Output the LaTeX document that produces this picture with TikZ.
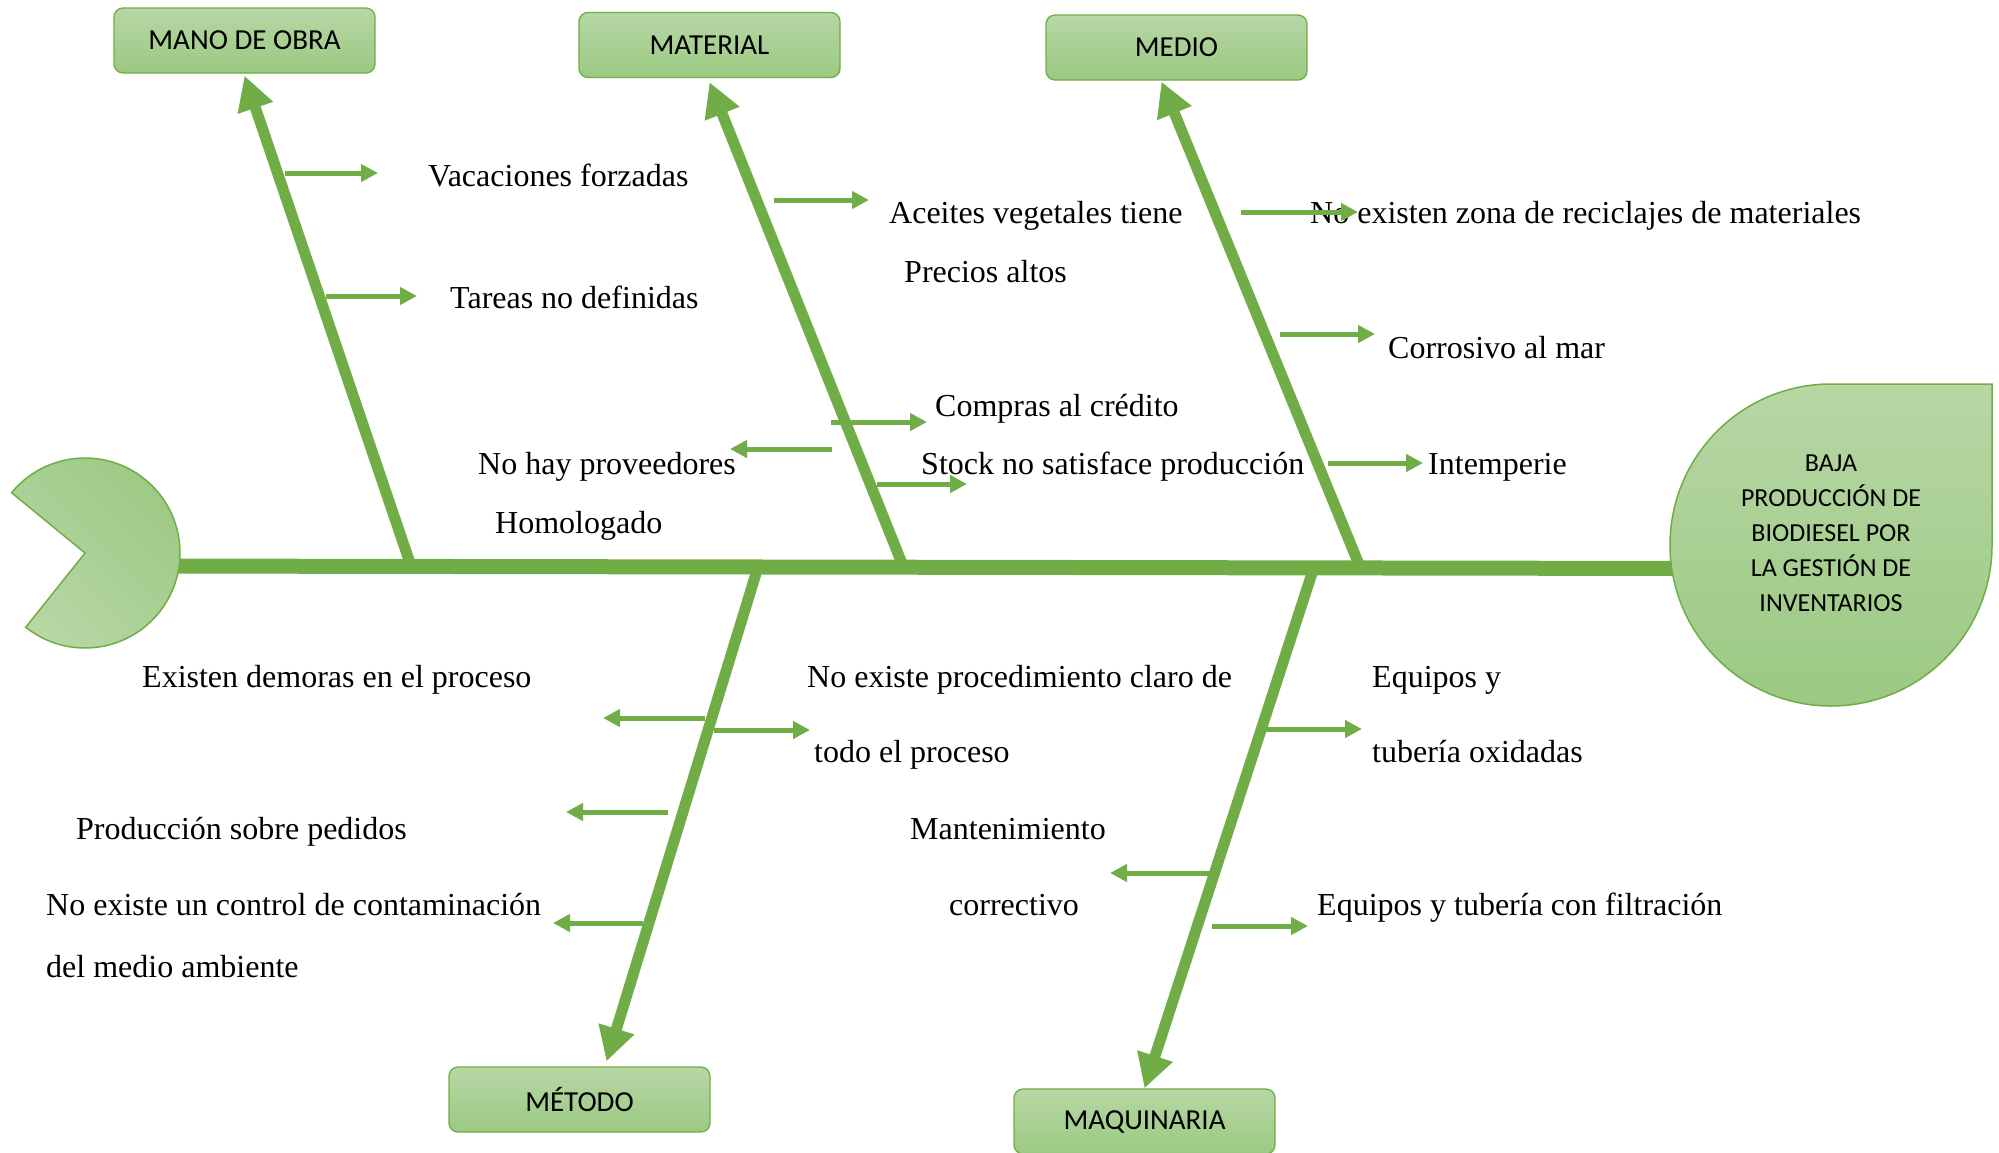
\documentclass[tikz,border=0pt]{standalone}
\usepackage{fontspec}
\setmainfont{Liberation Serif}
\newfontfamily\labelfont{Carlito}
\usetikzlibrary{arrows.meta}

\definecolor{fishgreen}{RGB}{112,173,71}
\definecolor{lightfill}{RGB}{183,215,165}
\definecolor{darkfill}{RGB}{155,201,130}

\begin{document}
\begin{tikzpicture}[x=1pt,y=-1pt,
  spine/.style={draw=fishgreen, line width=15pt},
  bone/.style={draw=fishgreen, line width=11pt, -{Triangle[length=34pt,width=35pt]}},
  twig/.style={draw=fishgreen, line width=5pt, -{Triangle[length=17pt,width=17pt]}},
  catbox/.style={draw=fishgreen, line width=1.3pt, rounded corners=9pt,
    top color=lightfill, bottom color=darkfill,
    minimum width=261pt, minimum height=65pt, inner sep=0pt,
    font=\labelfont\fontsize{29}{34}\selectfont},
  cause/.style={anchor=base west, inner sep=0pt, font=\fontsize{32}{38}\selectfont},
]
\useasboundingbox (0,0) rectangle (1999,1152);

% main spine, tucked under the tail and the head
\coordinate (tailjoin) at (150,566);
\coordinate (headjoin) at (1700,568.5);
\draw[spine] (tailjoin) -- (headjoin);

% fish tail
\shade[top color=darkfill, bottom color=lightfill, shading angle=-45,
       draw=fishgreen, line width=1.5pt]
  (85,553) -- +(219.4:95) arc[start angle=219.4, end angle=488.6, radius=95] -- cycle;

% fish head
\shade[top color=lightfill, bottom color=darkfill, draw=fishgreen, line width=1.5pt]
  (1992,545) -- (1992,384) -- (1831,384) arc[start angle=270, end angle=0, radius=161] -- cycle;
\node[align=center, inner sep=0pt, font=\labelfont\fontsize{26}{35}\selectfont] (effect) at (1831,533)
  {BAJA\\PRODUCCIÓN DE\\BIODIESEL POR\\LA GESTIÓN DE\\INVENTARIOS};

% category boxes
\node[catbox] (mano)   at (244.5,40.5)  {MANO DE OBRA};
\node[catbox] (mat)    at (709.5,45)    {MATERIAL};
\node[catbox] (medio)  at (1176.5,47.5) {MEDIO};
\node[catbox] (metodo) at (579.5,1099.5){MÉTODO};
\node[catbox] (maq)    at (1144.5,1121.5){MAQUINARIA};

% junctions on the spine
\coordinate (jmano)   at (411,566);
\coordinate (jmat)    at (903,566);
\coordinate (jmedio)  at (1360,567);
\coordinate (jmetodo) at (758,567);
\coordinate (jmaq)    at (1314,567);

% main bones
\draw[bone] (jmano) -- ([yshift=-2pt]mano.south);
\draw[bone] (jmat) -- ([yshift=-4pt]mat.south);
\draw[bone] (jmedio) -- ([xshift=-15pt,yshift=-1pt]medio.south);
\draw[bone] (jmetodo) -- ([xshift=27pt,yshift=5pt]metodo.north);
\draw[bone] (jmaq) -- (maq.north);

% causes
\node[cause] (c1)  at (428,186)  {Vacaciones forzadas};
\node[cause] (c2)  at (450,308)  {Tareas no definidas};
\node[cause] (c3)  at (889,223)  {Aceites vegetales tiene};
\node[cause] (c4)  at (904,282)  {Precios altos};
\node[cause] (c5)  at (935,416)  {Compras al crédito};
\node[cause] (c6)  at (921,474)  {Stock no satisface producción};
\node[cause] (c7)  at (478,474)  {No hay proveedores};
\node[cause] (c8)  at (495,533)  {Homologado};
\node[cause] (c9)  at (1310,223) {No existen zona de reciclajes de materiales};
\node[cause] (c10) at (1388,358) {Corrosivo al mar};
\node[cause] (c11) at (1428,474) {Intemperie};
\node[cause] (c12) at (142,687)  {Existen demoras en el proceso};
\node[cause] (c13) at (807,687)  {No existe procedimiento claro de};
\node[cause] (c14) at (814,762)  {todo el proceso};
\node[cause] (c15) at (76,839)   {Producción sobre pedidos};
\node[cause] (c16) at (46,915)   {No existe un control de contaminación};
\node[cause] (c17) at (46,977)   {del medio ambiente};
\node[cause] (c18) at (910,839)  {Mantenimiento};
\node[cause] (c19) at (949,915)  {correctivo};
\node[cause] (c20) at (1372,687) {Equipos y};
\node[cause] (c21) at (1372,762) {tubería oxidadas};
\node[cause] (c22) at (1317,915) {Equipos y tubería con filtración};

% sub-cause arrows: start and tip points
\coordinate (s1)  at (285,173);  \coordinate (e1)  at (378,173);
\coordinate (s2)  at (326,296);  \coordinate (e2)  at (417,296);
\coordinate (s3)  at (774,200);  \coordinate (e3)  at (869,200);
\coordinate (s4)  at (831,422);  \coordinate (e4)  at (927,422);
\coordinate (s5)  at (832,449);  \coordinate (e5)  at (730,449);
\coordinate (s6)  at (877,484);  \coordinate (e6)  at (967,484);
\coordinate (s7)  at (1241,212); \coordinate (e7)  at (1358,212);
\coordinate (s8)  at (1280,334); \coordinate (e8)  at (1375,334);
\coordinate (s9)  at (1328,463); \coordinate (e9)  at (1423,463);
\coordinate (s10) at (705,718);  \coordinate (e10) at (603,718);
\coordinate (s11) at (714,730);  \coordinate (e11) at (810,730);
\coordinate (s12) at (668,812);  \coordinate (e12) at (566,812);
\coordinate (s13) at (643,923);  \coordinate (e13) at (553,923);
\coordinate (s14) at (1266,729); \coordinate (e14) at (1362,729);
\coordinate (s15) at (1209,873); \coordinate (e15) at (1110,873);
\coordinate (s16) at (1212,926); \coordinate (e16) at (1308,926);

\foreach \i in {1,...,16} \draw[twig] (s\i) -- (e\i);
\end{tikzpicture}
\end{document}
